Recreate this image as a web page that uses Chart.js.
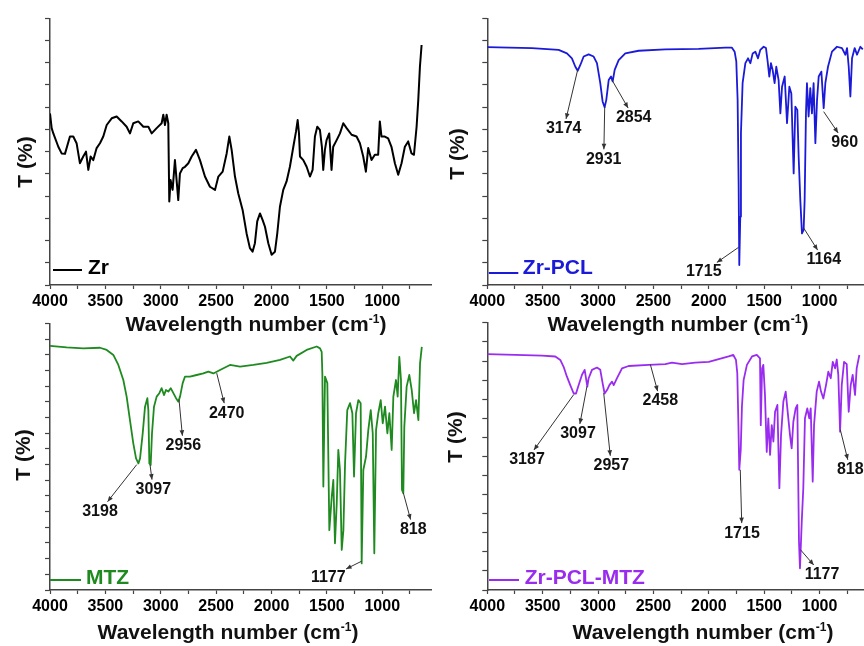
<!DOCTYPE html>
<html>
<head>
<meta charset="utf-8">
<script src="https://cdn.jsdelivr.net/npm/chart.js@4.4.0/dist/chart.umd.min.js"></script>
<style>
body{margin:0;background:#fff;width:864px;height:646px;position:relative;overflow:hidden;font-family:"Liberation Sans",Arial,sans-serif;}
canvas{position:absolute;}
.ttl{position:absolute;font-weight:bold;font-size:21px;white-space:nowrap;color:#111;transform:translate(-50%,-50%);z-index:2;}
.ttl.v{transform:translate(-50%,-50%) rotate(-90deg);}
.ttl sup{font-size:12px;line-height:0;vertical-align:8px;}
</style>
</head>
<body>
<canvas id="c1" width="432" height="340" style="left:0;top:0"></canvas>
<canvas id="c2" width="432" height="340" style="left:432px;top:0"></canvas>
<canvas id="c3" width="432" height="336" style="left:0;top:310px"></canvas>
<canvas id="c4" width="432" height="336" style="left:432px;top:310px"></canvas>

<div class="ttl" style="left:256px;top:324px">Wavelength number (cm<sup>-1</sup>)</div>
<div class="ttl" style="left:678px;top:324px">Wavelength number (cm<sup>-1</sup>)</div>
<div class="ttl" style="left:228px;top:632px">Wavelength number (cm<sup>-1</sup>)</div>
<div class="ttl" style="left:703px;top:632px">Wavelength number (cm<sup>-1</sup>)</div>
<div class="ttl v" style="left:25px;top:162px">T (%)</div>
<div class="ttl v" style="left:457px;top:154px">T (%)</div>
<div class="ttl v" style="left:23px;top:455px">T (%)</div>
<div class="ttl v" style="left:455px;top:437px">T (%)</div>

<script>
var FONT = '"Liberation Sans", Arial, sans-serif';

// x axis ticks (every 250) and the labelled ones
var wnTicks = [4000,3750,3500,3250,3000,2750,2500,2250,2000,1750,1500,1250,1000,750];
var wnLabels = [4000,3500,3000,2500,2000,1500,1000];

// Zr
var zrWn = [4000,3985,3970,3925,3895,3865,3820,3790,3760,3730,
  3700,3675,3654,3633,3609,3579,3549,3519,3488,3443,
  3398,3353,3308,3278,3248,3203,3157,3112,3082,3037,
  2992,2977,2962,2947,2932,2923,2911,2893,2872,2857,
  2842,2827,2802,2781,2751,2721,2682,2646,2601,2556,
  2510,2480,2441,2405,2381,2360,2330,2300,2261,2225,
  2195,2171,2150,2129,2104,2080,2059,2029,1999,1969,
  1948,1924,1894,1864,1834,1803,1779,1764,1752,1743,
  1713,1683,1653,1629,1608,1587,1563,1545,1533,1518,
  1503,1479,1458,1443,1412,1382,1352,1322,1277,1232,
  1202,1172,1148,1127,1097,1067,1037,1022,1007,977,
  947,917,886,856,826,796,766,736,714,690,
  675,660,645];
var zrT = [38.6,35.3,34.1,31.1,29.6,29.5,33.4,33.4,31.9,27.4,
  28.9,30,25.9,28.9,28.1,30.8,31.9,33.4,36,37.5,
  37.9,36.8,35.6,34.1,36.4,36.8,35.6,35.6,34.1,35.3,
  36.4,38.3,36,38.3,36.4,18.8,23.6,21.4,28.1,23.6,
  19.1,25.1,26.3,26.6,27.4,28.9,30.4,28.1,24.4,22.1,
  21.4,24.4,25.5,29.6,33.4,30.4,24.4,20.6,16.9,11.6,
  8.3,7.5,9.4,14.3,16.1,14.6,13.1,9.4,6.8,7.5,
  11.6,17.6,21.4,23.3,26.6,31.1,34.5,37.1,34.1,28.9,
  28.1,26.6,24.4,25.9,33.4,35.6,34.9,31.1,25.9,30.4,
  32.6,34.1,25.9,31.1,32.6,34.1,36.4,35.3,33.8,33.4,
  31.9,28.9,25.5,30.8,28.1,29.3,29.3,36.8,33.4,33.4,
  33,31.1,27.4,24.8,27.4,31.1,32.3,29.6,29.3,35.6,
  41.6,49.1,54];

// Zr-PCL
var zrPclWn = [4000,3597,3356,3281,3236,3205,3184,3160,3130,3085,
  3040,3010,2980,2959,2941,2926,2904,2883,2868,2850,
  2814,2754,2634,2393,2092,1851,1791,1767,1752,1740,
  1731,1725,1716,1710,1695,1670,1646,1625,1604,1580,
  1556,1535,1505,1484,1469,1454,1439,1424,1406,1391,
  1370,1354,1339,1315,1294,1273,1255,1243,1234,1219,
  1201,1189,1174,1159,1144,1135,1123,1114,1099,1084,
  1069,1054,1038,1023,1008,984,963,948,924,888,
  843,798,767,752,737,722,707,683,662,632,
  610];
var zrPclT = [53.5,53.3,52.9,52.1,51,49.1,48.2,49.5,51.4,51.9,
  51.4,49.9,45.4,41.3,40,41.6,46.1,46.9,45.8,48.4,
  50.6,52.1,52.7,53,53.1,53.4,53.4,52.5,50.3,41.6,
  22.9,4.5,15.4,34.1,45.4,49.9,51,49.9,52.1,52.5,
  51,52.9,53.6,53.3,50.3,46.9,49.9,48.4,45.4,49.1,
  46.1,38.6,44.6,46.9,36.4,44.6,43.1,32.6,25.1,40.1,
  39.4,28.9,19.1,11.6,12.4,19.1,38.6,45.4,37.9,44.3,
  38.6,45.4,31.9,41.6,46.9,48,39.8,45.4,49.1,52.5,
  53.6,53.3,51.8,53.3,49.1,42.4,51,53.3,51.8,53.6,
  53];

// MTZ
var mtzWn = [4000,3850,3699,3549,3488,3428,3383,3338,3308,3278,
  3248,3223,3202,3187,3163,3142,3121,3112,3103,3091,
  3079,3061,3037,3013,2992,2971,2953,2932,2910,2886,
  2862,2841,2826,2802,2781,2736,2676,2616,2570,2525,
  2465,2375,2284,2164,2044,1923,1833,1803,1773,1683,
  1592,1562,1547,1541,1532,1517,1496,1478,1456,1442,
  1427,1411,1397,1382,1366,1351,1336,1316,1291,1270,
  1255,1237,1216,1195,1186,1171,1147,1126,1104,1086,
  1072,1056,1036,1014,996,975,954,936,915,900,
  876,861,846,831,822,810,801,780,756,734,
  713,695,674,659,643];
var mtzT = [77.9,77.4,77.1,77.3,76.6,75,71.8,67,61.7,54.2,
  46.8,42,40.4,42,50,58.5,61.2,57.4,40.4,39.9,
  50,58.5,61.7,62.8,64.4,62.2,63.8,63.3,64.4,62.8,
  61.2,60.1,61.7,66,68.1,68.1,68.6,69.1,69.7,69.1,
  70.2,71.8,71.3,71.8,72.5,73.4,74.5,73.2,74.7,76.6,
  77.7,77.1,76,69.1,33,68.1,66,19.1,29.8,35.1,
  14.9,27.7,44.7,38.3,12.8,19.1,40.4,57.4,59.6,56.4,
  36.2,56.4,60.6,59.6,8.5,38.3,42.5,51.1,57.4,50,
  11.7,51.1,56.4,60.6,53.2,58.5,50,56.4,44.7,61.7,
  67,61.7,74.4,67,31.9,30.9,52.1,64.9,68.6,63.8,
  56.4,60.6,54.2,72.3,77.6];

// Zr-PCL-MTZ
var zrPclMtzWn = [4000,3747,3506,3386,3341,3311,3281,3251,3220,3199,
  3175,3145,3121,3109,3097,3085,3055,3010,2980,2959,
  2941,2919,2898,2874,2859,2829,2784,2724,2543,2393,
  2333,2242,2122,2001,1911,1821,1779,1755,1743,1734,
  1725,1712,1701,1686,1656,1610,1567,1538,1531,1519,
  1508,1493,1477,1463,1447,1432,1417,1402,1381,1363,
  1348,1327,1306,1288,1267,1252,1237,1216,1201,1186,
  1177,1161,1147,1132,1111,1093,1080,1062,1050,1026,
  1005,987,966,942,921,899,881,860,845,831,
  815,800,779,755,737,719,701,680,665,641];
var zrPclMtzT = [61.8,61.6,61.4,61.2,60.3,58.5,55.9,53.7,51.5,51.5,
  53.7,56.4,57.7,55.5,53.3,55.5,57.7,58.3,57.7,54.2,
  51.5,52.4,53.7,54.6,53.7,55.5,58.1,58.7,59,59.2,
  59.6,59.2,59.6,59.8,60.5,61.2,61.6,60.3,56.8,45,
  31.5,36.7,48.1,55,59,61.2,61.6,60.7,43.2,58.1,
  59,51.1,36.2,45,35.4,43.2,38.9,46.7,48.5,26.7,
  40.6,49.4,52,46.7,40.6,37.1,44.1,47.6,48.5,12.7,
  5.7,17.9,26.7,45,47.6,45,47.6,28.4,43.2,52,
  54.6,52,50.2,53.7,57.2,55.5,59.8,58.1,60.4,56.4,
  41.5,53.7,59.8,59.2,46.7,53.7,56.4,51.1,58.1,61.6];

// peak labels: text, wavenumber, T, label offset dx, dy (px)
var zrPclPeaks = [['3174',3184,48.4,-14,59],['2931',2940,40.1,-1,52.6],['2854',2874,46.1,21.7,37.7],
  ['1715',1730,8.5,-35,24.4],['1164',1143,12.8,20,31.7],['960',963,39,21,31]];
var mtzPeaks = [['3198',3217,40,-36.7,46.6],['3097',3097,40,3.3,25],['2956',2835,60.7,4.3,46],
  ['2470',2495,69.2,10,40],['1177',1186,9.2,-33.4,16.7],['818',810,31,10,36.7]];
var zrPclMtzPeaks = [['3187',3220,51.2,-46.7,65],['3097',3100,53.4,-9,47.7],['2957',2949,51.6,7.6,72.7],
  ['2458',2528,59.1,10,36.6],['1715',1716,31.5,1.7,63.3],['1177',1174,10.6,21.7,25],['818',813,42,10,40]];

var specLegend = {
  id: 'specLegend',
  afterDatasetsDraw: function(chart, args, o) {
    var ctx = chart.ctx, a = chart.chartArea;
    ctx.save();
    ctx.strokeStyle = o.color;
    ctx.lineWidth = 2;
    ctx.beginPath();
    ctx.moveTo(a.left + o.x0, a.bottom - o.ly);
    ctx.lineTo(a.left + o.x1, a.bottom - o.ly);
    ctx.stroke();
    ctx.fillStyle = o.color;
    ctx.font = 'bold 21px ' + FONT;
    ctx.textBaseline = 'middle';
    ctx.fillText(o.text, a.left + o.tx, a.bottom - o.ty);
    ctx.restore();
  }
};

var peaks = {
  id: 'peaks',
  afterDatasetsDraw: function(chart, args, o) {
    if (!o.list) return;
    var ctx = chart.ctx, x = chart.scales.x, y = chart.scales.y;
    ctx.save();
    ctx.font = 'bold 16px ' + FONT;
    ctx.textAlign = 'center';
    ctx.textBaseline = 'middle';
    o.list.forEach(function(p) {
      var px = x.getPixelForValue(p[1]), py = y.getPixelForValue(p[2]);
      var dx = p[3], dy = p[4], len = Math.hypot(dx, dy);
      var ux = dx / len, uy = dy / len;
      var hw = ctx.measureText(p[0]).width / 2, hh = 8;
      var gap = Math.min(ux ? hw / Math.abs(ux) : 1e9, uy ? hh / Math.abs(uy) : 1e9) + 2;
      var ex = px + ux * (len - gap), ey = py + uy * (len - gap);
      ctx.strokeStyle = '#333';
      ctx.fillStyle = '#333';
      ctx.lineWidth = 1;
      ctx.beginPath();
      ctx.moveTo(px, py);
      ctx.lineTo(ex, ey);
      ctx.stroke();
      var ang = Math.atan2(uy, ux);
      ctx.beginPath();
      ctx.moveTo(ex, ey);
      ctx.lineTo(ex - 6 * Math.cos(ang - 0.4), ey - 6 * Math.sin(ang - 0.4));
      ctx.lineTo(ex - 6 * Math.cos(ang + 0.4), ey - 6 * Math.sin(ang + 0.4));
      ctx.closePath();
      ctx.fill();
      ctx.fillStyle = '#111';
      ctx.fillText(p[0], px + dx, py + dy);
    });
    ctx.restore();
  }
};

function makeChart(id, xs, ys, color, lw, o) {
  var pts = [];
  for (var i = 0; i < Math.min(xs.length, ys.length); i++) pts.push({x: xs[i], y: ys[i]});
  return new Chart(document.getElementById(id), {
    type: 'line',
    data: {
      datasets: [{
        data: pts,
        borderColor: color,
        borderWidth: lw,
        borderJoinStyle: 'round',
        pointRadius: 0,
        tension: 0,
        fill: false
      }]
    },
    options: {
      responsive: false,
      animation: false,
      layout: {padding: {top: o.padTop, left: 0, right: 0, bottom: 0}},
      plugins: {
        legend: {display: false},
        tooltip: {enabled: false},
        specLegend: o.legend,
        peaks: {list: o.peaks}
      },
      scales: {
        x: {
          type: 'linear',
          reverse: true,
          min: o.xMin,
          max: 4000,
          border: {color: '#444', width: 1.5},
          grid: {drawOnChartArea: false, tickLength: 4, color: '#444', tickWidth: 1.2},
          afterBuildTicks: function(s) {
            s.ticks = wnTicks.filter(function(v) { return v >= s.min; }).map(function(v) { return {value: v}; });
          },
          ticks: {
            autoSkip: false,
            maxRotation: 0,
            padding: 3,
            color: '#000',
            font: {family: FONT, size: 16, weight: 'bold'},
            callback: function(v) { return wnLabels.indexOf(v) >= 0 ? String(v) : ''; }
          },
          afterFit: function(s) { s.height = o.xAxisH; }
        },
        y: {
          min: 0,
          max: o.yMax,
          border: {color: '#444', width: 1.5},
          grid: {drawOnChartArea: false, tickLength: 5, color: '#444', tickWidth: 1.2},
          ticks: {stepSize: 5, display: false},
          afterFit: function(s) { s.width = o.yAxisW; }
        }
      }
    },
    plugins: [specLegend, peaks]
  });
}

makeChart('c1', zrWn, zrT, '#000000', 2, {
  padTop: 18.3, xAxisH: 55, yAxisW: 50, xMin: 551, yMax: 60,
  legend: {text: 'Zr', color: '#000000', x0: 3, x1: 32, ly: 15, tx: 38, ty: 17}
});
makeChart('c2', zrPclWn, zrPclT, '#1a1ad8', 1.8, {
  padTop: 18.3, xAxisH: 55, yAxisW: 55.3, xMin: 599, yMax: 60, peaks: zrPclPeaks,
  legend: {text: 'Zr-PCL', color: '#1a1ad8', x0: 1.5, x1: 31, ly: 12, tx: 35.5, ty: 17}
});
makeChart('c3', mtzWn, mtzT, '#1f8a1f', 1.8, {
  padTop: 13.6, xAxisH: 56, yAxisW: 50, xMin: 551, yMax: 85, peaks: mtzPeaks,
  legend: {text: 'MTZ', color: '#1f8a1f', x0: 0, x1: 31, ly: 10, tx: 36, ty: 12}
});
makeChart('c4', zrPclMtzWn, zrPclMtzT, '#9a2cf0', 1.8, {
  padTop: 12.9, xAxisH: 56, yAxisW: 55.3, xMin: 599, yMax: 70, peaks: zrPclMtzPeaks,
  legend: {text: 'Zr-PCL-MTZ', color: '#9a2cf0', x0: 1.7, x1: 31.7, ly: 10, tx: 37.4, ty: 12}
});
</script>
</body>
</html>
